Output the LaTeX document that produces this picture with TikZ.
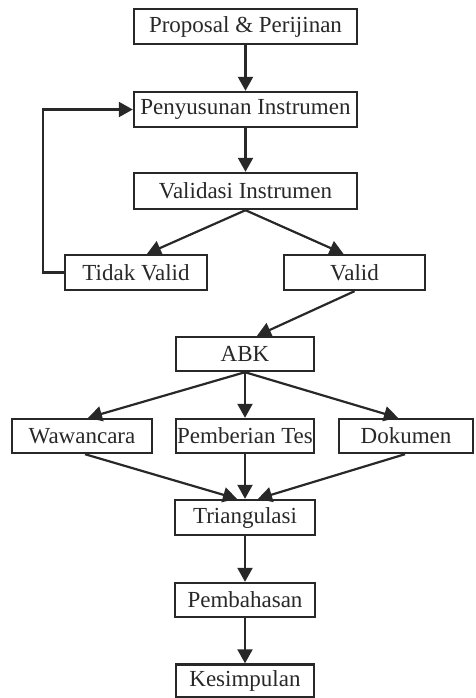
\documentclass[tikz,border=0pt]{standalone}
\usepackage{fontspec}
\setmainfont{Liberation Serif}
\usetikzlibrary{arrows.meta}
\definecolor{ink}{RGB}{40,40,40}
\tikzset{
  box/.style={draw=ink, line width=2.4pt, inner sep=0pt, text=ink,
    font=\fontsize{23}{26}\selectfont},
  arr/.style={draw=ink, line width=2.2pt, -{Triangle[width=15pt,length=14pt]}},
}
\begin{document}
\begin{tikzpicture}[x=1pt,y=-1pt]
\useasboundingbox (0,0) rectangle (475,698);
\node[box, minimum width=223pt, minimum height=35pt] (prop) at (245.5,26.5) {Proposal \& Perijinan};
\node[box, minimum width=223pt, minimum height=35pt] (peny) at (245.5,109.5) {Penyusunan Instrumen};
\node[box, minimum width=223pt, minimum height=36pt] (vali) at (245.5,191) {Validasi Instrumen};
\node[box, minimum width=142pt, minimum height=35pt] (tidak) at (136,272.5) {Tidak Valid};
\node[box, minimum width=141pt, minimum height=35pt] (valid) at (354.5,272.5) {Valid};
\node[box, minimum width=138pt, minimum height=34pt] (abk) at (245,354) {ABK};
\node[box, minimum width=140pt, minimum height=34pt] (waw) at (82,436) {Wawancara};
\node[box, minimum width=138pt, minimum height=34pt] (pemb) at (245,436) {Pemberian Tes};
\node[box, minimum width=134pt, minimum height=34pt] (dok) at (406,436) {Dokumen};
\node[box, minimum width=140pt, minimum height=35pt] (tri) at (245,517.5) {Triangulasi};
\node[box, minimum width=140pt, minimum height=34pt] (bah) at (245,600) {Pembahasan};
\node[box, minimum width=138pt, minimum height=33pt] (kes) at (245,681) {Kesimpulan};

\draw[arr] (prop.south) -- (peny.north);
\draw[arr] (peny.south) -- (vali.north);
\draw[arr] (vali.south) -- ([xshift=11pt]tidak.north);
\draw[arr] (vali.south) -- ([xshift=-11pt]valid.north);
\draw[arr] (tidak.west) -- ++(-21,0) |- (peny.west);
\draw[arr] (valid.south) -- ([xshift=12pt]abk.north);
\draw[arr] (abk.south) -- ([xshift=6pt]waw.north);
\draw[arr] (abk.south) -- (pemb.north);
\draw[arr] (abk.south) -- ([xshift=-8pt]dok.north);
\draw[arr] ([xshift=3pt]waw.south) -- ([xshift=-8pt]tri.north);
\draw[arr] (pemb.south) -- (tri.north);
\draw[arr] ([xshift=-1pt]dok.south) -- ([xshift=13pt]tri.north);
\draw[arr] (tri.south) -- (bah.north);
\draw[arr] (bah.south) -- (kes.north);
\end{tikzpicture}
\end{document}
